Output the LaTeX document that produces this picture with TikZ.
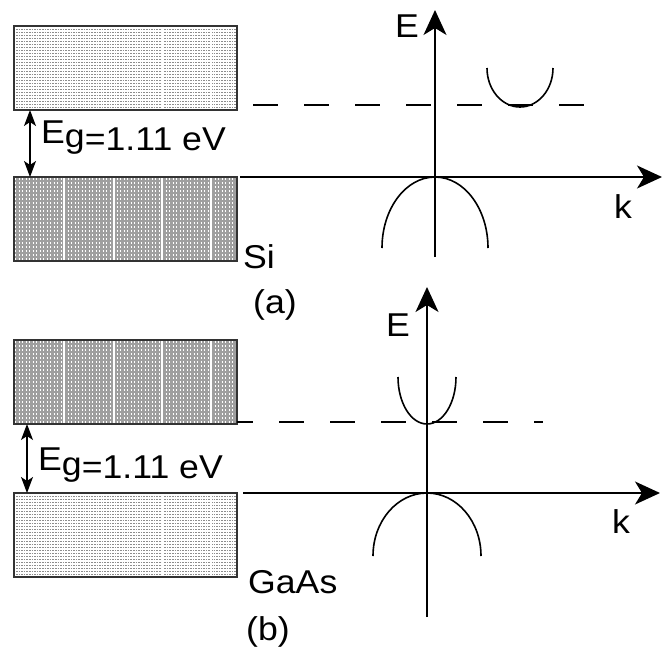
\documentclass[tikz,border=0pt]{standalone}
\usepackage{fontspec}
\setmainfont{Liberation Sans}[FakeStretch=1.08]
\usepackage{tikz}
\usetikzlibrary{arrows.meta}

\begin{document}
\begin{tikzpicture}[x=1pt,y=-1pt,>={Stealth[length=16pt,width=12pt,inset=4pt]},
  lbl/.style={font=\fontsize{33}{38}\selectfont,inner sep=0pt,anchor=base west},
  axis/.style={line width=1.6pt,-{Stealth[length=25pt,width=23pt,inset=7pt]}},
  band/.style={line width=1.6pt},
  edgeline/.style={line width=1.6pt,dash pattern=on 25pt off 26pt},
  boxline/.style={line width=1.3pt,black!80}]
  \useasboundingbox (0,0) rectangle (662,654);
  % sparse bands
  \foreach \ya in {26,493} {\fill[white] (14,\ya) rectangle (237,{\ya+84});
    \foreach \r in {0,...,26} \draw[gray!90,line width=0.9pt,dash pattern=on 1.6pt off 1pt] (16,{\ya+3+3*\r}) -- (236,{\ya+3+3*\r});
    \foreach \x in {64,114,162,211} \draw[white,line width=1pt] (\x,\ya) -- (\x,{\ya+84});
    \draw[boxline] (14,\ya) rectangle (237,{\ya+84});}
  % dense bands
  \foreach \ya in {177,340} {\fill[gray!75] (14,\ya) rectangle (237,{\ya+84});
    \foreach \r in {0,...,20} \draw[white,line width=1.3pt,dash pattern=on 1.3pt off 2.2pt] (15,{\ya+2+4*\r}) -- (236,{\ya+2+4*\r});
    \foreach \x in {64,114,162,211} \draw[white,line width=1.5pt] (\x,\ya) -- (\x,{\ya+84});
    \draw[boxline] (14,\ya) rectangle (237,{\ya+84});}
  % (a) Si
  \coordinate (ka0) at (240,177); \coordinate (ka) at (662,177);
  \coordinate (Ea0) at (435,257); \coordinate (Ea) at (435,10);
  \coordinate (da0) at (253,105); \coordinate (da1) at (584,105);
  \coordinate (ga0) at (30,110); \coordinate (ga1) at (30,177);
  \draw[edgeline] (da0) -- (da1);
  \draw[axis] (ka0) -- (ka);
  \draw[axis] (Ea0) -- (Ea);
  \draw[<->,line width=1.2pt] (ga0) -- (ga1);
  \draw[band] (487,68) arc[start angle=180,end angle=0,x radius=33,y radius=39];
  \draw[band] (382,248) arc[start angle=180,end angle=360,x radius=53,y radius=71];
  \node[lbl] (Elaba) at (395,37) {E};
  \node[lbl] (klaba) at (614,218) {k};
  \node[lbl] (gapa) at (41,150) {\raisebox{7pt}{E}\raisebox{3pt}{g}=1.11 eV};
  \node[lbl] (Si) at (243,268) {Si};
  \node[lbl] (capa) at (253,313) {(a)};
  % (b) GaAs
  \coordinate (kb0) at (243,493); \coordinate (kb) at (660,493);
  \coordinate (Eb0) at (427,617); \coordinate (Eb) at (427,287);
  \coordinate (db0) at (237,422); \coordinate (db1) at (543,422);
  \coordinate (gb0) at (27,424); \coordinate (gb1) at (27,493);
  \draw[edgeline,dash phase=9pt] (db0) -- (db1);
  \draw[axis] (kb0) -- (kb);
  \draw[axis] (Eb0) -- (Eb);
  \draw[<->,line width=1.2pt] (gb0) -- (gb1);
  \draw[band] (398,377) arc[start angle=180,end angle=0,x radius=29,y radius=47];
  \draw[band] (373,556) arc[start angle=180,end angle=360,x radius=54,y radius=63];
  \node[lbl] (Elabb) at (386,336) {E};
  \node[lbl] (klabb) at (612,533) {k};
  \node[lbl] (gapb) at (38,478) {\raisebox{8pt}{E}\raisebox{3pt}{g}=1.11 eV};
  \node[lbl] (GaAs) at (248,593) {GaAs};
  \node[lbl] (capb) at (246,640) {(b)};
\end{tikzpicture}
\end{document}
